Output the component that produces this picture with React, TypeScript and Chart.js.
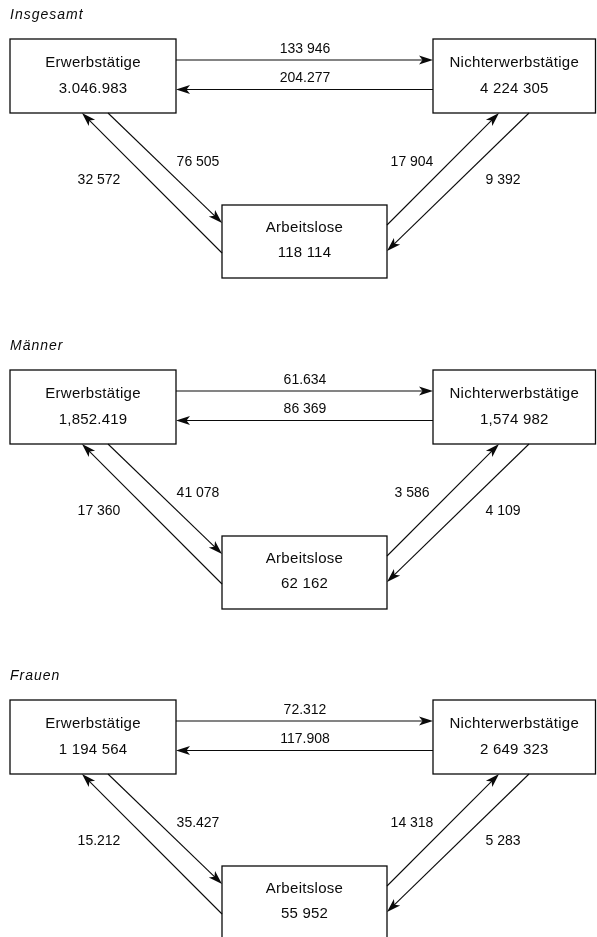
import React, { useEffect, useRef } from "react";
import { Chart, registerables } from "chart.js";

Chart.register(...registerables);

// ---- data (as printed) ----
const panelTitles = ["Insgesamt", "Männer", "Frauen"];
const nodeNames = ["Erwerbstätige", "Nichterwerbstätige", "Arbeitslose"];
const erwerbstaetige = ["3.046.983", "1,852.419", "1 194 564"];
const nichterwerbstaetige = ["4 224 305", "1,574 982", "2 649 323"];
const arbeitslose = ["118 114", "62 162", "55 952"];
const flowErwToNicht = ["133 946", "61.634", "72.312"];
const flowNichtToErw = ["204.277", "86 369", "117.908"];
const flowErwToArb = ["76 505", "41 078", "35.427"];
const flowArbToErw = ["32 572", "17 360", "15.212"];
const flowArbToNicht = ["17 904", "3 586", "14 318"];
const flowNichtToArb = ["9 392", "4 109", "5 283"];

// ---- layout (diagram units) ----
const W = 597;
const H = 937;
const panelOffsets = [0, 331, 661];
const titlePos = [10, 15];
type Rect = [number, number, number, number];
const boxRects: Rect[] = [
  [10, 39, 176, 113],
  [433, 39, 595.5, 113],
  [222, 205, 387, 278],
];
const nodeValues = [erwerbstaetige, nichterwerbstaetige, arbeitslose];
const nameOffsetY = [24, 24, 23];
const valueOffsetY = [49.5, 49.5, 48];

type ArrowDef = { from: [number, number]; to: [number, number]; label: [number, number]; values: string[] };
const arrowDefs: ArrowDef[] = [
  { from: [176, 60], to: [433, 60], label: [305, 49.5], values: flowErwToNicht },
  { from: [433, 89.5], to: [176, 89.5], label: [305, 78.5], values: flowNichtToErw },
  { from: [108, 113], to: [222, 223], label: [198, 162], values: flowErwToArb },
  { from: [222, 253], to: [82, 113], label: [99, 180.5], values: flowArbToErw },
  { from: [387, 225], to: [499, 113], label: [412, 162], values: flowArbToNicht },
  { from: [529, 113], to: [387, 251], label: [503, 180], values: flowNichtToArb },
];

const INK = "#0a0a0a";

const diagramPlugin = {
  id: "flowDiagram",
  afterDraw(chart: any) {
    const ctx: CanvasRenderingContext2D = chart.ctx;
    const xs = chart.scales.x;
    const ys = chart.scales.y;
    const px = (v: number) => xs.getPixelForValue(v);
    const py = (v: number) => ys.getPixelForValue(v);

    ctx.save();
    ctx.fillStyle = "#ffffff";
    ctx.fillRect(0, 0, chart.width, chart.height);

    const setSpacing = (s: string) => {
      try {
        (ctx as any).letterSpacing = s;
      } catch (e) {}
    };

    const drawArrow = (x0: number, y0: number, x1: number, y1: number) => {
      const ax0 = px(x0), ay0 = py(y0), ax1 = px(x1), ay1 = py(y1);
      const dx = ax1 - ax0, dy = ay1 - ay0;
      const len = Math.hypot(dx, dy);
      const ux = dx / len, uy = dy / len;
      const hl = 14, hw = 4.5;
      ctx.strokeStyle = INK;
      ctx.lineWidth = 1.1;
      ctx.beginPath();
      ctx.moveTo(ax0, ay0);
      ctx.lineTo(ax1 - ux * hl * 0.6, ay1 - uy * hl * 0.6);
      ctx.stroke();
      ctx.fillStyle = INK;
      ctx.beginPath();
      ctx.moveTo(ax1, ay1);
      ctx.lineTo(ax1 - ux * hl - uy * hw, ay1 - uy * hl + ux * hw);
      ctx.lineTo(ax1 - ux * hl * 0.75, ay1 - uy * hl * 0.75);
      ctx.lineTo(ax1 - ux * hl + uy * hw, ay1 - uy * hl - ux * hw);
      ctx.closePath();
      ctx.fill();
    };

    panelTitles.forEach((title, p) => {
      const oy = panelOffsets[p];

      // title
      ctx.fillStyle = INK;
      ctx.font = 'italic 14px "Liberation Sans", Arial, sans-serif';
      setSpacing("1px");
      ctx.textAlign = "left";
      ctx.textBaseline = "middle";
      ctx.fillText(title, px(titlePos[0]), py(titlePos[1] + oy));

      // boxes
      boxRects.forEach((r, i) => {
        const x0 = px(r[0]), y0 = py(r[1] + oy), x1 = px(r[2]), y1 = py(r[3] + oy);
        ctx.strokeStyle = INK;
        ctx.lineWidth = 1.3;
        ctx.strokeRect(x0, y0, x1 - x0, y1 - y0);
        const cx = (x0 + x1) / 2;
        ctx.fillStyle = INK;
        ctx.textAlign = "center";
        ctx.textBaseline = "middle";
        ctx.font = '15px "Liberation Sans", Arial, sans-serif';
        setSpacing("0.3px");
        ctx.fillText(nodeNames[i], cx, py(r[1] + oy + nameOffsetY[i]));
        setSpacing("0.2px");
        ctx.fillText(nodeValues[i][p], cx, py(r[1] + oy + valueOffsetY[i]));
      });

      // arrows
      arrowDefs.forEach((a) => {
        drawArrow(a.from[0], a.from[1] + oy, a.to[0], a.to[1] + oy);
        ctx.fillStyle = INK;
        ctx.font = '14px "Liberation Sans", Arial, sans-serif';
        setSpacing("0px");
        ctx.textAlign = "center";
        ctx.textBaseline = "middle";
        ctx.fillText(a.values[p], px(a.label[0]), py(a.label[1] + oy));
      });
    });
    setSpacing("0px");
    ctx.restore();
  },
};

export default function App() {
  const canvasRef = useRef<HTMLCanvasElement | null>(null);

  useEffect(() => {
    if (!canvasRef.current) return;
    const chart = new Chart(canvasRef.current, {
      type: "scatter",
      data: { datasets: [{ data: [], pointRadius: 0 }] },
      options: {
        animation: false,
        responsive: true,
        maintainAspectRatio: false,
        layout: { padding: 0 },
        plugins: { legend: { display: false }, tooltip: { enabled: false } },
        scales: {
          x: { type: "linear", min: 0, max: W, display: false },
          y: { type: "linear", min: 0, max: H, reverse: true, display: false },
        },
      },
      plugins: [diagramPlugin],
    });
    return () => chart.destroy();
  }, []);

  return (
    <div style={{ position: "absolute", left: 0, top: 0, width: W, height: H, background: "#fff" }}>
      <canvas ref={canvasRef} />
    </div>
  );
}
